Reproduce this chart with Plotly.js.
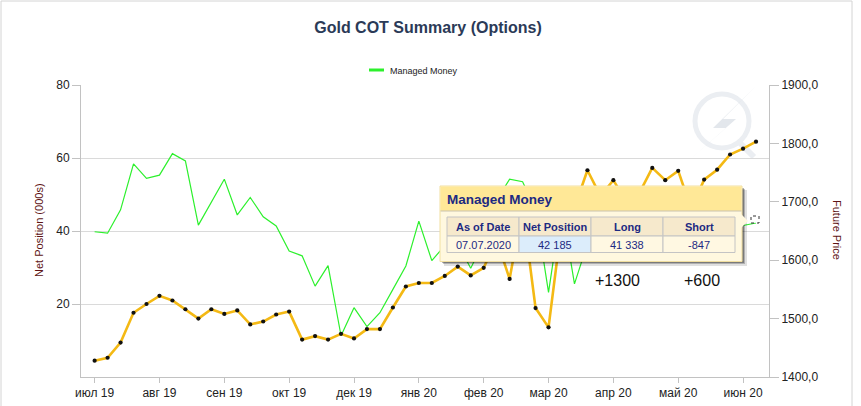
<!DOCTYPE html>
<html>
<head>
<meta charset="utf-8">
<script src="https://cdn.plot.ly/plotly-3.0.1.min.js"></script>
<style>
  html, body { margin: 0; padding: 0; background: #ffffff; }
  #chart { width: 861px; height: 406px; }
</style>
</head>
<body>
<div id="chart"></div>
<script>
// ---- Data (weekly COT reports) ----
const tickLabels = ["июл 19", "авг 19", "сен 19", "окт 19", "дек 19", "янв 20", "фев 20", "мар 20", "апр 20", "май 20", "июн 20"];
const tickWeeks = [0, 5, 10, 15, 20, 25, 30, 35, 40, 45, 50];

// Managed Money net position, thousands of contracts (left axis)
const managedMoney = [
  39.8, 39.4, 45.8, 58.4, 54.4, 55.3, 61.2, 59.2, 41.6, 48.0,
  54.2, 44.4, 49.2, 43.9, 41.4, 34.5, 33.2, 24.9, 30.5, 11.3,
  19.0, 13.8, 17.6, 24.0, 30.4, 42.7, 31.9, 36.0, 36.5, 29.8,
  37.0, 48.5, 54.2, 53.5, 46.0, 23.2, 47.0, 25.5, 36.5, 40.0,
  44.0, 39.0, 42.0, 46.0, 43.0, 40.0, 44.0, 47.0, 43.5, 40.5,
  41.5, 42.185
];

// Gold futures price (right axis)
const futurePrice = [
  1428, 1433, 1459, 1510, 1525, 1539, 1531, 1516, 1500, 1516,
  1508, 1514, 1490, 1495, 1507, 1512, 1464, 1470, 1464, 1474,
  1466, 1482, 1482, 1519, 1555, 1561, 1561, 1573, 1589, 1574,
  1587, 1635, 1568, 1690, 1518, 1485, 1660, 1690, 1754, 1710,
  1737, 1700, 1715, 1758, 1737, 1753, 1688, 1738, 1755, 1781,
  1791, 1803
];

// Tooltip contents
const tipTitle = "Managed Money";
const tipHeaders = ["As of Date", "Net Position", "Long", "Short"];
const tipValues = ["07.07.2020", "42 185", "41 338", "-847"];

// Change annotations
const changeLabels = ["+1300", "+600"];

const weeks = managedMoney.map((_, i) => i);

// ---- Pixel -> paper helpers (layout positions only) ----
const L = 81, R = 769, T = 85, B = 377;
const px = x => (x - L) / (R - L);
const py = y => (B - y) / (B - T);

const traces = [
  {
    x: weeks, y: futurePrice, yaxis: 'y2', type: 'scatter', mode: 'lines+markers',
    name: 'Future Price', showlegend: false,
    line: { color: '#f4b914', width: 2.6 },
    marker: { color: '#111111', size: 4.2 }
  },
  {
    x: weeks, y: managedMoney, type: 'scatter', mode: 'lines',
    name: 'Managed Money', showlegend: false,
    line: { color: '#2cf02c', width: 1.2 }
  }
];

function rect(x0, y0, x1, y1, fill, line, layer, lw) {
  return { type: 'rect', xref: 'paper', yref: 'paper',
    x0: px(x0), x1: px(x1), y0: py(y1), y1: py(y0),
    fillcolor: fill, line: { color: line || 'rgba(0,0,0,0)', width: lw === undefined ? 1 : lw },
    layer: layer || 'above' };
}
function path(points, fill, line, layer, lw) {
  const d = points.map((p, i) => (i ? 'L' : 'M') + px(p[0]) + ',' + py(p[1])).join(' ') + ' Z';
  return { type: 'path', xref: 'paper', yref: 'paper', path: d,
    fillcolor: fill, line: { color: line || 'rgba(0,0,0,0)', width: lw || 0 }, layer: layer || 'above' };
}

const shapes = [];
// outer frame
shapes.push(rect(1, 1, 852, 440, 'rgba(0,0,0,0)', '#d4d4d4', 'below', 1));
// watermark logo
shapes.push({ type: 'circle', xref: 'paper', yref: 'paper',
  x0: px(695), x1: px(749), y0: py(148), y1: py(94),
  fillcolor: 'rgba(0,0,0,0)', line: { color: '#ebeef2', width: 5 }, layer: 'below' });
shapes.push(path([[756, 86], [713, 128], [726, 128], [686, 163], [736, 119], [723, 119]], '#e3e7ec', null, 'below'));
shapes.push({ type: 'line', xref: 'paper', yref: 'paper', x0: px(738), y0: py(141), x1: px(754), y1: py(157),
  line: { color: '#ebeef2', width: 6 }, layer: 'below' });

// legend sample
shapes.push({ type: 'line', xref: 'paper', yref: 'paper', x0: px(369), x1: px(384), y0: py(70), y1: py(70),
  line: { color: '#2cf02c', width: 3 } });

// tooltip shadow
shapes.push(rect(444, 190, 747, 266, 'rgba(0,0,0,0.12)', null, 'above', 0));
shapes.push(rect(443, 189, 745, 264, 'rgba(0,0,0,0.22)', null, 'above', 0));
shapes.push(rect(442, 188, 744, 263, 'rgba(0,0,0,0.30)', null, 'above', 0));
// tooltip body
shapes.push(rect(440, 186, 742, 261.5, '#fff8df', '#f1dfa0', 'above', 1));
shapes.push(path([[741, 214], [748, 221], [741, 228]], '#fff8df', null, 'above'));
shapes.push(rect(440.5, 186.5, 741.5, 211, '#ffe897', null, 'above', 0));
shapes.push({ type: 'line', xref: 'paper', yref: 'paper', x0: px(440.5), x1: px(741.5), y0: py(211), y1: py(211),
  line: { color: '#c9c2ae', width: 1 } });
// table
const colX = [447, 519, 591, 663, 735];
const rowY = [217, 236, 252.5];
for (let c = 0; c < 4; c++) {
  shapes.push(rect(colX[c], rowY[0], colX[c + 1], rowY[1], '#f6e9cc', '#c4c4c4', 'above', 1));
  shapes.push(rect(colX[c], rowY[1], colX[c + 1], rowY[2], c === 1 ? '#dcedfb' : '#fff8e2', '#c4c4c4', 'above', 1));
}
// hover marker icon
shapes.push(rect(751, 216, 759, 223, 'rgba(255,255,255,0.6)', '#333333', 'above', 1));
shapes[shapes.length - 1].line.dash = 'dot';

const annotations = [];
annotations.push({ xref: 'paper', yref: 'paper', x: px(388), y: py(70.5), xanchor: 'left', yanchor: 'middle',
  text: 'Managed Money', showarrow: false, font: { family: 'Liberation Sans, Arial, sans-serif', size: 9, color: '#222222' } });
annotations.push({ xref: 'paper', yref: 'paper', x: px(39), y: py(230), xanchor: 'center', yanchor: 'middle',
  text: 'Net Position (000s)', textangle: -90, showarrow: false,
  font: { family: 'Liberation Sans, Arial, sans-serif', size: 11, color: '#5e1414' } });
annotations.push({ xref: 'paper', yref: 'paper', x: px(837), y: py(230), xanchor: 'center', yanchor: 'middle',
  text: 'Future Price', textangle: 90, showarrow: false,
  font: { family: 'Liberation Sans, Arial, sans-serif', size: 11, color: '#5e1414' } });
annotations.push({ xref: 'paper', yref: 'paper', x: px(445), y: py(199), xanchor: 'left', yanchor: 'middle',
  text: '<b>' + tipTitle + '</b>', showarrow: false,
  font: { family: 'Liberation Sans, Arial, sans-serif', size: 13.5, color: '#1d2a82' } });
for (let c = 0; c < 4; c++) {
  const cx = (colX[c] + colX[c + 1]) / 2;
  annotations.push({ xref: 'paper', yref: 'paper', x: px(cx), y: py(226.5), xanchor: 'center', yanchor: 'middle',
    text: '<b>' + tipHeaders[c] + '</b>', showarrow: false,
    font: { family: 'Liberation Sans, Arial, sans-serif', size: 11, color: '#1d2a82' } });
  annotations.push({ xref: 'paper', yref: 'paper', x: px(cx), y: py(244.5), xanchor: 'center', yanchor: 'middle',
    text: tipValues[c], showarrow: false,
    font: { family: 'Liberation Sans, Arial, sans-serif', size: 11, color: '#1d2a82' } });
}
annotations.push({ xref: 'paper', yref: 'paper', x: px(617), y: py(280), xanchor: 'center', yanchor: 'middle',
  text: changeLabels[0], showarrow: false, font: { family: 'Liberation Sans, Arial, sans-serif', size: 16, color: '#111111' } });
annotations.push({ xref: 'paper', yref: 'paper', x: px(702), y: py(280), xanchor: 'center', yanchor: 'middle',
  text: changeLabels[1], showarrow: false, font: { family: 'Liberation Sans, Arial, sans-serif', size: 16, color: '#111111' } });

const tickFont = { family: 'Liberation Sans, Arial, sans-serif', size: 12, color: '#222222' };

const layout = {
  width: 861, height: 406,
  margin: { l: L, r: 861 - R, t: T, b: 406 - B, pad: 0 },
  paper_bgcolor: '#ffffff', plot_bgcolor: '#ffffff',
  separators: ', ',
  showlegend: false,
  hovermode: false,
  title: {
    text: '<b>Gold COT Summary (Options)</b>',
    xref: 'container', yref: 'container', x: 428 / 861, xanchor: 'center',
    y: 1 - 27 / 406, yanchor: 'middle',
    font: { family: 'Liberation Sans, Arial, sans-serif', size: 16, color: '#2b3a57' }
  },
  xaxis: {
    range: [-1.05, 52.0], tickmode: 'array', tickvals: tickWeeks, ticktext: tickLabels,
    showgrid: false, zeroline: false, showline: true, linecolor: '#c2c2c2', linewidth: 1,
    ticks: 'outside', ticklen: 5, tickcolor: '#c2c2c2', tickfont: tickFont
  },
  yaxis: {
    range: [0, 80], tickmode: 'array', tickvals: [20, 40, 60, 80],
    showgrid: true, gridcolor: '#dadada', zeroline: false, showline: true, linecolor: '#c2c2c2',
    ticks: 'outside', ticklen: 8, tickcolor: '#c2c2c2', tickfont: tickFont
  },
  yaxis2: {
    overlaying: 'y', side: 'right', range: [1400, 1900], tickmode: 'linear', tick0: 1400, dtick: 100,
    tickformat: '.1f', showgrid: false, zeroline: false, showline: true, linecolor: '#c2c2c2',
    ticks: 'outside', ticklen: 9, tickcolor: '#c2c2c2', tickfont: tickFont
  },
  shapes: shapes,
  annotations: annotations
};

Plotly.newPlot('chart', traces, layout, { staticPlot: true, displayModeBar: false });
</script>
</body>
</html>
